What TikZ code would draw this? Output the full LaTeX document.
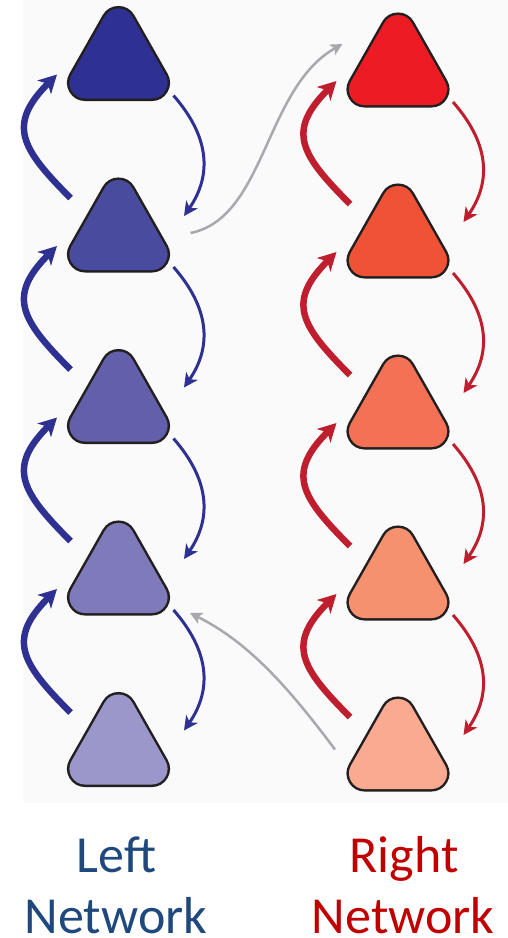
\documentclass[tikz,border=0pt]{standalone}
\usepackage{fontspec}
\setmainfont{Carlito}
\usetikzlibrary{arrows.meta,calc}
\definecolor{bgc}{HTML}{FAFAFA}
\definecolor{outl}{HTML}{231F20}
\definecolor{lA}{HTML}{2E3192}
\definecolor{lB}{HTML}{484B9E}
\definecolor{lC}{HTML}{6260AA}
\definecolor{lD}{HTML}{7F7BBB}
\definecolor{lE}{HTML}{9B97CA}
\definecolor{rA}{HTML}{ED1C24}
\definecolor{rB}{HTML}{F05236}
\definecolor{rC}{HTML}{F37154}
\definecolor{rD}{HTML}{F69170}
\definecolor{rE}{HTML}{F9AA90}
\definecolor{blarr}{HTML}{2E3192}
\definecolor{rdarr}{HTML}{BE1E2D}
\definecolor{grarr}{HTML}{A7A9AC}
\definecolor{ltext}{HTML}{1F497D}
\definecolor{rtext}{HTML}{C00000}
% rounded triangle: inner triangle widened by a round line join
\newcommand\mytri[2]{%
  \draw[trio] ($(#1)+(0,-29.3)$) -- ($(#1)+(33.3,29.3)$) -- ($(#1)+(-33.3,29.3)$) -- cycle;
  \draw[trii, draw=#2, fill=#2] ($(#1)+(0,-29.3)$) -- ($(#1)+(33.3,29.3)$) -- ($(#1)+(-33.3,29.3)$) -- cycle;}
\begin{document}
\begin{tikzpicture}[x=1pt,y=-1pt,
  trio/.style={draw=outl, fill=outl, line width=36.5pt, line join=round},
  trii/.style={line width=31.5pt, line join=round},
  thickarr/.style={line width=6.5pt, -{Stealth[length=18pt,width=19pt,inset=5pt]}},
  thinarr/.style={line width=3pt, -{Stealth[length=14pt,width=14pt,inset=4pt]}},
  grayarr/.style={draw=grarr, line width=2.5pt, -{Stealth[length=12pt,width=12pt,inset=3pt]}},
  lbl/.style={font=\fontsize{52}{61}\selectfont, anchor=base, inner sep=0pt}]
\useasboundingbox (0,0) rectangle (508,938);
\fill[bgc] (23,0) rectangle (508,803);
% nodes
\foreach \i in {1,...,5} {
  \coordinate (L\i) at (118.5,{53.5+171.5*(\i-1)});
  \coordinate (R\i) at (398,{60+171*(\i-1)});
}
% arrows within networks
\foreach \i/\j in {1/2,2/3,3/4,4/5} {
  \draw[thickarr, draw=blarr] ([shift={(-48,-27)}]L\j.center) .. controls +(-50,-50) and +(-50,50) .. ([shift={(-61.5,21)}]L\i.center);
  \draw[thinarr, draw=blarr] ([shift={(55,42)}]L\i.center) .. controls +(35,40) and +(29,-42) .. ([shift={(65.5,-9)}]L\j.center);
  \draw[thickarr, draw=rdarr] ([shift={(-48,-27)}]R\j.center) .. controls +(-50,-50) and +(-50,50) .. ([shift={(-61.5,21)}]R\i.center);
  \draw[thinarr, draw=rdarr] ([shift={(55,42)}]R\i.center) .. controls +(35,40) and +(29,-42) .. ([shift={(65.5,-9)}]R\j.center);
}
% cross-network arrows
\draw[grayarr] ([shift={(72,8)}]L2.center) .. controls +(75,-15) and +(-78,44) .. ([shift={(-55.5,-16)}]R1.center);
\draw[grayarr] ([shift={(-63,5.5)}]R5.center) .. controls +(-45,-60) and +(60,30) .. ([shift={(71.5,45)}]L4.center);
% triangles
\mytri{L1}{lA}\mytri{L2}{lB}\mytri{L3}{lC}\mytri{L4}{lD}\mytri{L5}{lE}
\mytri{R1}{rA}\mytri{R2}{rB}\mytri{R3}{rC}\mytri{R4}{rD}\mytri{R5}{rE}
% labels
\node[lbl, text=ltext] (lt1) at (116.5,872) {Left};
\node[lbl, text=ltext] (lt2) at (116,933) {Network};
\node[lbl, text=rtext] (rt1) at (404,872) {Right};
\node[lbl, text=rtext] (rt2) at (403,933) {Network};
\end{tikzpicture}
\end{document}
